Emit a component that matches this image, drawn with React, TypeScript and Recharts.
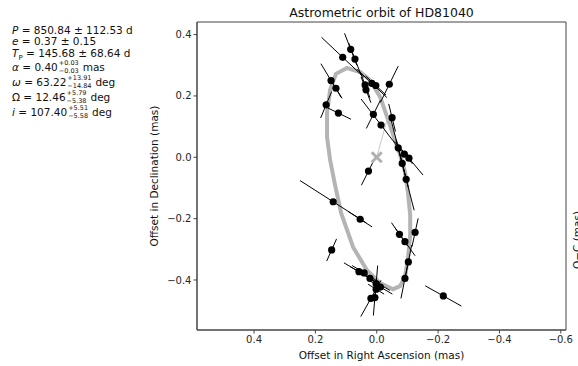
import React from 'react'
import { ComposedChart, Line, Scatter, XAxis, YAxis, ReferenceLine, ReferenceArea } from 'recharts'

// fitted orbit (mas)
const orbitRa = [0.097, 0.054, 0.022, -0.011, -0.034, -0.056, -0.076, -0.092, -0.102, -0.109, -0.109, -0.102, -0.092, -0.076, -0.053, -0.011, 0.032, 0.077, 0.116, 0.136, 0.152, 0.162, 0.162, 0.152, 0.133]
const orbitDec = [0.291, 0.278, 0.252, 0.197, 0.131, 0.066, 0.008, -0.048, -0.116, -0.188, -0.253, -0.328, -0.39, -0.42, -0.43, -0.41, -0.368, -0.293, -0.182, -0.09, -0.009, 0.066, 0.145, 0.22, 0.272]

// observations
const obsRa = [0.085, 0.071, 0.038, 0.035, 0.111, 0.016, 0.003, 0.149, 0.133, 0.165, 0.125, -0.041, 0.011, -0.014, -0.05, -0.07, -0.083, -0.096, -0.09, -0.105, 0.027, 0.142, 0.054, 0.147, 0.058, 0.041, 0.022, 0.002, -0.012, 0.002, 0.019, 0.006, -0.074, -0.092, -0.125, -0.103, -0.092, -0.217]
const obsDec = [0.352, 0.32, 0.236, 0.22, 0.326, 0.241, 0.234, 0.25, 0.225, 0.171, 0.144, 0.238, 0.14, 0.105, 0.129, 0.031, -0.02, -0.072, 0.01, -0.003, -0.045, -0.145, -0.202, -0.302, -0.373, -0.377, -0.395, -0.412, -0.423, -0.43, -0.46, -0.457, -0.251, -0.275, -0.245, -0.341, -0.395, -0.452]

// half error bar along the scan direction
const errRa = [0.02, 0.02, 0.016, 0.016, 0.069, 0.049, 0.033, 0.033, 0.02, 0.018, 0.041, -0.029, -0.023, 0.065, 0.011, 0.026, 0.02, 0.026, 0.026, 0.046, 0.023, 0.108, 0.039, 0.016, 0.049, 0.039, 0.065, -0.005, 0.039, 0.026, 0.033, -0.005, 0.026, 0.033, -0.01, -0.011, -0.013, 0.059]
const errDec = [0.052, 0.052, 0.042, 0.042, 0.065, 0.046, 0.031, 0.055, 0.033, -0.043, 0.02, 0.059, 0.046, 0.085, 0.045, 0.101, 0.078, 0.101, 0.031, 0.055, -0.046, 0.069, 0.025, -0.036, 0.029, 0.024, 0.039, 0.059, 0.023, 0.016, -0.059, 0.059, 0.038, 0.046, 0.046, 0.055, 0.065, 0.033]

const xTicks = [-0.6, -0.4, -0.2, 0, 0.2, 0.4]
const yTicks = [-0.4, -0.2, 0, 0.2, 0.4]
const xDomain = [-0.617, 0.586]
const yDomain = [-0.563, 0.441]
const periastron = { x: -0.037, y: 0.135 }

const orbitData = orbitRa.map((x, i) => ({ x, y: orbitDec[i] }))
const obsData = obsRa.map((x, i) => ({ x, y: obsDec[i] }))

const font = 'DejaVu Sans, sans-serif'
const fmt = (v: number) => v.toFixed(1).replace('-', '\u2212')
const tickStyle = { fontSize: 10, fill: '#262626', fontFamily: font }

const Stack = ({ up, dn }: { up: string; dn: string }) => (
  <span style={{ display: 'inline-flex', flexDirection: 'column', fontSize: 6.5, lineHeight: '7.6px', verticalAlign: 'middle', margin: '0 4px 0 1px' }}>
    <span>{up}</span>
    <span>{dn}</span>
  </span>
)

const line = (top: number, content: React.ReactNode) => (
  <div style={{ position: 'absolute', left: 12, top: top - 7, height: 14, lineHeight: '14px', whiteSpace: 'nowrap' }}>{content}</div>
)

export default function App() {
  return (
    <div style={{ position: 'absolute', left: 0, top: 0, width: 578, height: 366, overflow: 'hidden', background: '#fff', fontFamily: font, color: '#111' }}>
      <div style={{ position: 'absolute', left: 0, top: 0, fontSize: 10.5 }}>
        {line(29.5, <><i>P</i> = 850.84 ± 112.53 d</>)}
        {line(41, <><i>e</i> = 0.37 ± 0.15</>)}
        {line(52.5, <><i>T</i><sub style={{ fontSize: 7 }}>P</sub> = 145.68 ± 68.64 d</>)}
        {line(67, <><i>α</i> = 0.40<Stack up="+0.03" dn="−0.03" />mas</>)}
        {line(82, <><i>ω</i> = 63.22<Stack up="+13.91" dn="−14.84" />deg</>)}
        {line(97, <>Ω = 12.46<Stack up="+5.79" dn="−5.38" />deg</>)}
        {line(112, <><i>i</i> = 107.40<Stack up="+5.51" dn="−5.58" />deg</>)}
      </div>

      <div style={{ position: 'absolute', left: 381.5, top: 12, transform: 'translate(-50%,-50%)', fontSize: 12.5, whiteSpace: 'nowrap' }}>
        Astrometric orbit of HD81040
      </div>
      <div style={{ position: 'absolute', left: 381.5, top: 355, transform: 'translate(-50%,-50%)', fontSize: 10.5, whiteSpace: 'nowrap' }}>
        Offset in Right Ascension (mas)
      </div>
      <div style={{ position: 'absolute', left: 154, top: 176, transform: 'translate(-50%,-50%) rotate(-90deg)', fontSize: 10.5, whiteSpace: 'nowrap' }}>
        Offset in Declination (mas)
      </div>
      <div style={{ position: 'absolute', left: 577, top: 240, transform: 'translate(-50%,-50%) rotate(-90deg)', fontSize: 10.5, whiteSpace: 'nowrap' }}>
        O−C (mas)
      </div>

      <div style={{ position: 'absolute', left: 0, top: 0 }}>
        <ComposedChart width={578} height={366} margin={{ top: 22, right: 12, bottom: 0, left: 0 }}>
          <XAxis
            type="number"
            dataKey="x"
            domain={xDomain}
            reversed
            allowDataOverflow
            ticks={xTicks}
            tickFormatter={fmt}
            height={36}
            tickSize={3.5}
            tick={tickStyle}
            stroke="#444"
          />
          <YAxis
            type="number"
            dataKey="y"
            domain={yDomain}
            allowDataOverflow
            ticks={yTicks}
            tickFormatter={fmt}
            width={197}
            tickSize={3.5}
            tick={tickStyle}
            stroke="#444"
          />
          <ReferenceArea x1={xDomain[0]} x2={xDomain[1]} y1={yDomain[0]} y2={yDomain[1]} fill="none" stroke="#444" strokeWidth={1} ifOverflow="visible" />
          <Line
            data={orbitData}
            dataKey="y"
            type="linearClosed"
            stroke="#b4b4b4"
            strokeWidth={4}
            dot={false}
            activeDot={false}
            isAnimationActive={false}
          />
          <ReferenceLine segment={[{ x: 0, y: 0 }, periastron]} stroke="#c8c8c8" strokeWidth={1} ifOverflow="visible" />
          {obsData.map((p, i) => (
            <ReferenceLine
              key={i}
              segment={[
                { x: p.x - errRa[i], y: p.y - errDec[i] },
                { x: p.x + errRa[i], y: p.y + errDec[i] },
              ]}
              stroke="#000"
              strokeWidth={1}
              ifOverflow="visible"
            />
          ))}
          <Scatter
            data={[{ x: 0, y: 0 }]}
            isAnimationActive={false}
            shape={(p: any) => (
              <g stroke="#b0b0b0" strokeWidth={3}>
                <line x1={p.cx - 5} y1={p.cy - 5} x2={p.cx + 5} y2={p.cy + 5} />
                <line x1={p.cx - 5} y1={p.cy + 5} x2={p.cx + 5} y2={p.cy - 5} />
              </g>
            )}
          />
          <Scatter
            data={obsData}
            isAnimationActive={false}
            shape={(p: any) => <circle cx={p.cx} cy={p.cy} r={3.6} fill="#000" />}
          />
        </ComposedChart>
      </div>
    </div>
  )
}
